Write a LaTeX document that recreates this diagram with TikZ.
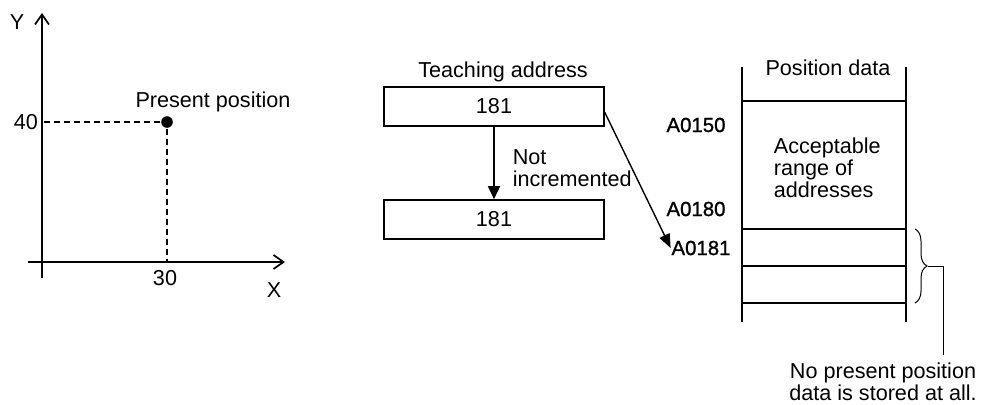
\documentclass[tikz,border=0pt]{standalone}
\usepackage{fontspec}
\setmainfont{Liberation Sans}
\newfontfamily\addrfont[FakeBold=1.2]{Liberation Sans}
\usetikzlibrary{arrows.meta,positioning,calc,decorations.pathreplacing}

\begin{document}
\begin{tikzpicture}[x=0.5pt, y=-0.5pt, node distance=56.5pt, line width=0.85pt,
  every node/.style={font=\fontsize{10.8}{11}\selectfont, inner sep=0pt},
  addrbox/.style={draw, minimum width=110pt, minimum height=19.5pt},
  addr/.style={font=\addrfont\fontsize{10.2}{11}\selectfont},
  axis/.style={-{Straight Barb[length=5pt,width=7pt]}},
  guide/.style={dashed, dash pattern=on 3pt off 2pt, line width=0.7pt}]
\useasboundingbox (0,0) rectangle (983,404);

% coordinate system with the present position
\coordinate (O) at (42,262);
\coordinate (xl) at (28,262);
\coordinate (xr) at (285,262);
\coordinate (yb) at (42,278);
\coordinate (yt) at (42,13);
\draw[axis] (xl) -- (xr);
\draw[axis] (yb) -- (yt);
\node (ylab) at (17,22) {Y};
\node (xlab) at (274,290) {X};
\node[circle, fill, minimum size=5.8pt] (pos) at (167,122) {};
\node (poslab) at (213,102) {Present position};
\node (y40) at (26,122) {40};
\node (x30) at (165,278) {30};
\draw[guide] (pos) -- (pos -| O);
\draw[guide] (pos) -- (pos |- O);

% teaching address
\node[addrbox] (tA) at (494,106.5) {181};
\node[addrbox, below of=tA] (tB) {181};
\node (tlab) at (503,72) {Teaching address};
\draw[-{Triangle[length=6.5pt,width=6pt]}] (tA) -- (tB);
\node[align=left, anchor=west] (notinc) at (512,168) {Not\\incremented};

% position data table
\node[addr] (a150) at (696,125) {A0150};
\node[addr] (a180) at (696,209) {A0180};
\node[addr] (a181) at (701,248) {A0181};
\draw[line width=0.7pt, -{Triangle[length=7pt,width=5.5pt]}] ([yshift=-3pt]tA.east) -- (a181.west);

\draw (742,67) -- (742,322);
\draw (906,67) -- (906,322);
\foreach \y in {101,229,266,303}
  \draw (742,\y) -- (906,\y);
\node (pdlab) at (828,68) {Position data};
\node[align=left, anchor=west] (range) at (773,168) {Acceptable\\range of\\addresses};

\draw[line width=0.5pt, decorate, decoration={brace, amplitude=6pt}] (915,229) -- (915,303);
\coordinate (btip) at (928,266);
\coordinate (lead) at (943,355);
\node[align=center, font=\fontsize{10.8}{9}\selectfont] (note) at (883,382) {No present position\\data is stored at all.};
\draw[line width=0.5pt] (btip) -| (lead);
\end{tikzpicture}
\end{document}
